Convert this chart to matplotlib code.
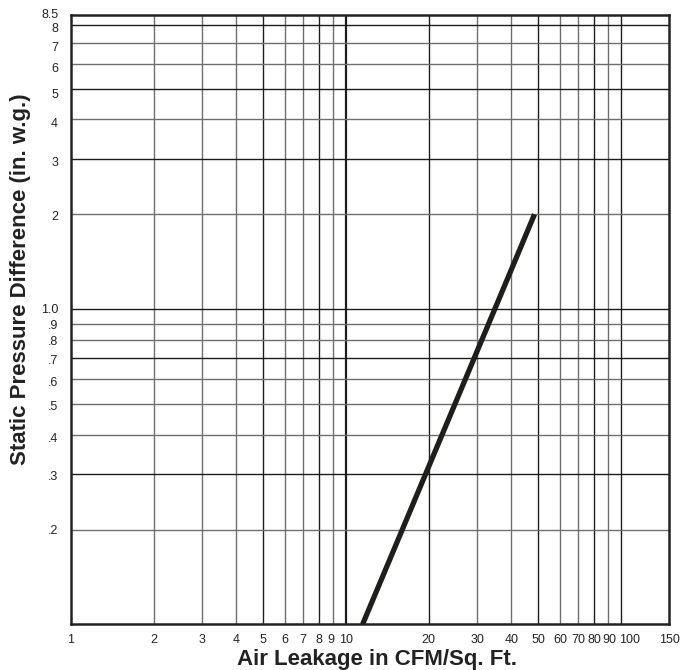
import matplotlib
matplotlib.use('Agg')
import matplotlib.pyplot as plt
import matplotlib.transforms as mtransforms
from matplotlib.ticker import NullLocator, NullFormatter

plt.rcParams['font.family'] = ['Liberation Sans', 'DejaVu Sans']

# leakage curve (two end points)
leak_cfm = [11.5, 48.5]
pressure = [0.1, 2.0]

x_ticks = [1, 2, 3, 4, 5, 6, 7, 8, 9, 10, 20, 30, 40, 50, 60, 70, 80, 90, 100, 150]
x_labels = ['1', '2', '3', '4', '5', '6', '7', '8', '9', '10',
            '20', '30', '40', '50', '60', '70', '80', '90', '100', '150']
y_ticks = [0.2, 0.3, 0.4, 0.5, 0.6, 0.7, 0.8, 0.9, 1.0, 2, 3, 4, 5, 6, 7, 8, 8.5]
y_labels = ['.2', '.3', '.4', '.5', '.6', '.7', '.8', '.9', '1.0',
            '2', '3', '4', '5', '6', '7', '8', '8.5']
# small nudges of the printed labels (points), as on the original print
x_label_nudge = [0, 0, 0, 0, 0, 0, 0, 0, -2, 0,
                 0, 0, 0, 0, 0, 0, 0, 1, 6, 0]
y_label_nudge = [-1, -2, -3, -2, -3, -2, -1.5, -1.5, -0.5,
                 -2, -3, -3.5, -4.5, -3.5, -3.5, -3, 1]

x_grid = [2, 3, 4, 5, 6, 7, 8, 9, 10, 20, 30, 40, 50, 60, 70, 80, 90, 100]
y_grid = [0.2, 0.3, 0.4, 0.5, 0.6, 0.7, 0.8, 0.9, 1.0, 2, 3, 4, 5, 6, 7, 8]
dark_x = [5, 8, 10, 20, 50, 80, 100]
dark_y = [0.3, 0.7, 1.0, 3, 5, 8]

fig = plt.figure(figsize=(6.93, 6.70), dpi=100)
ax = fig.add_axes([0.102, 0.068, 0.864, 0.909])
ax.set_xscale('log')
ax.set_yscale('log')
ax.set_xlim(1, 150)
ax.set_ylim(0.1, 8.55)

# grid lines
for xv in x_grid:
    c = '#1c1c1c' if xv in dark_x else '#6e6e6e'
    ax.axvline(xv, color=c, lw=1.6 if xv == 10 else 1.0, zorder=1)
for yv in y_grid:
    c = '#1c1c1c' if yv in dark_y else '#6e6e6e'
    ax.axhline(yv, color=c, lw=1.0, zorder=1)

ax.plot(leak_cfm, pressure, color='#1e1e1c', lw=3.8, solid_capstyle='butt', zorder=3)

for axis in (ax.xaxis, ax.yaxis):
    axis.set_major_locator(NullLocator())
    axis.set_minor_locator(NullLocator())
    axis.set_major_formatter(NullFormatter())

# tick labels written by hand so each can be nudged like the original
tx = mtransforms.blended_transform_factory(ax.transData, ax.transAxes)
for xv, lab, dx in zip(x_ticks, x_labels, x_label_nudge):
    off = mtransforms.offset_copy(tx, fig=fig, x=dx, y=-11, units='points')
    ax.text(xv, 0, lab, transform=off, ha='center', va='center',
            fontsize=9, color='#222222', clip_on=False)

ty = mtransforms.blended_transform_factory(ax.transAxes, ax.transData)
for yv, lab, dy in zip(y_ticks, y_labels, y_label_nudge):
    off = mtransforms.offset_copy(ty, fig=fig, x=-9, y=dy, units='points')
    ax.text(0, yv, lab, transform=off, ha='right', va='center',
            fontsize=9, color='#222222', clip_on=False)

for sp in ax.spines.values():
    sp.set_linewidth(1.8)
    sp.set_color('#222222')

ax.set_xlabel('Air Leakage in CFM/Sq. Ft.', fontsize=16, fontweight='bold',
              color='#222222')
ax.xaxis.set_label_coords(0.512, -0.040)
ax.set_ylabel('Static Pressure Difference (in. w.g.)', fontsize=16,
              fontweight='bold', color='#222222')
ax.yaxis.set_label_coords(-0.066, 0.567)

fig.savefig('out.png', dpi=100, facecolor='white')
